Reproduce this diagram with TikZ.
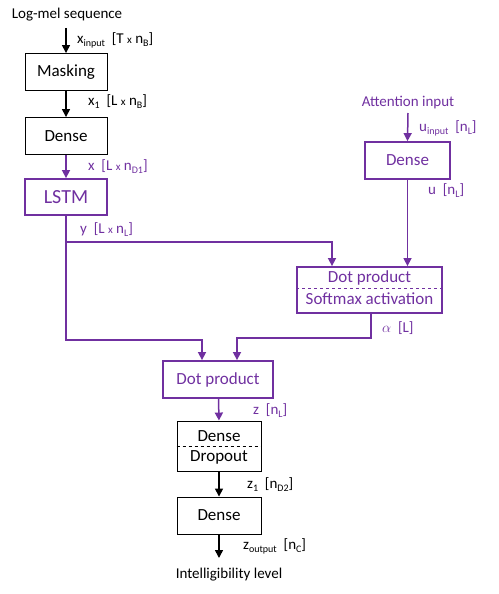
\documentclass[tikz,border=0pt]{standalone}
\usepackage{fontspec}
\setmainfont{Carlito}
\usetikzlibrary{arrows.meta,calc}
\definecolor{pur}{RGB}{112,48,160}
\newcommand{\sbs}[1]{\raisebox{-0.4ex}{\fontsize{10}{10}\selectfont #1}}
\newcommand{\tms}{{\fontsize{11}{11}\selectfont x}}
\begin{document}
\begin{tikzpicture}[x=1pt,y=-1pt,
  bbox/.style={draw=black,line width=0.9pt,minimum width=82pt,minimum height=37pt,inner sep=0pt,font=\fontsize{17}{17}\selectfont},
  pbox/.style={draw=pur,line width=1.8pt,text=pur,inner sep=0pt,font=\fontsize{17}{17}\selectfont},
  barr/.style={draw=black,line width=1.5pt,-{Triangle[length=8pt,width=8pt]}},
  parr/.style={draw=pur,line width=1.5pt,-{Triangle[length=8pt,width=8pt]}},
  lbl/.style={anchor=west,inner sep=0pt,font=\fontsize{15}{15}\selectfont},
  plbl/.style={lbl,text=pur},
  ttl/.style={inner sep=0pt,font=\fontsize{15}{15}\selectfont},
  btxt/.style={inner sep=0pt,font=\fontsize{17}{17}\selectfont}]
\useasboundingbox (0,0) rectangle (498,594);
% left column
\node[ttl] (logmel) at (67,15) {Log-mel sequence};
\node[bbox] (mask) at (66,72) {Masking};
\node[bbox] (dense1) at (66,136) {Dense};
\node[pbox,minimum width=82pt,minimum height=36pt,font=\fontsize{20}{20}\selectfont] (lstm) at (66,197) {LSTM};
% right column
\node[ttl,text=pur] (attin) at (408,103) {Attention input};
\node[pbox,minimum width=85pt,minimum height=37pt] (dense2) at (407.5,160.5) {Dense};
\node[pbox,minimum width=145pt,minimum height=46pt] (sm) at (369.5,290) {};
\draw[pur,line width=0.8pt,dashed] (sm.west |- 0,288) -- (sm.east |- 0,288);
\node[btxt,text=pur] (smt1) at (369.5,278) {Dot product};
\node[btxt,text=pur] (smt2) at (369.5,299) {Softmax activation};
% bottom
\node[pbox,minimum width=110pt,minimum height=37pt] (dp) at (218,379.5) {Dot product};
\node[bbox,minimum width=84pt,minimum height=50pt] (dd) at (219,446) {};
\draw[black,line width=0.8pt,dashed] (dd.west |- 0,446) -- (dd.east |- 0,446);
\node[btxt] (ddt1) at (219,436) {Dense};
\node[btxt] (ddt2) at (219,457) {Dropout};
\node[bbox,minimum width=84pt] (dense3) at (219,515.5) {Dense};
\node[ttl] (intel) at (229,575) {Intelligibility level};
\coordinate (zout) at (219,558);
% connectors
\draw[barr] (66,28) -- (mask.north);
\draw[barr] (mask.south) -- (dense1.north);
\draw[parr] (dense1.south) -- (lstm.north);
\draw[parr] (lstm.south) -- (lstm.south |- 0,340) -| ([xshift=-16]dp.north);
\draw[parr] (lstm.south |- 0,242) -| ([xshift=-37.5]sm.north);
\draw[parr] (408,113) -- (dense2.north);
\draw[parr] (dense2.south) -- (dense2.south |- sm.north);
\draw[parr] ([xshift=1.5]sm.south) -- ([xshift=1.5]sm.south |- 0,338) -| ([xshift=19]dp.north);
\draw[parr] ([xshift=0.5]dp.south) -- (dd.north);
\draw[barr] (dd.south) -- (dense3.north);
\draw[barr] (dense3.south) -- (zout);
% labels
\node[lbl] (l1) at (77,40) {x\sbs{input}\ \ [T \tms\ n\sbs{B}]};
\node[lbl] (l2) at (88,102) {x\sbs{1}\ \ [L \tms\ n\sbs{B}]};
\node[plbl] (l3) at (88,167) {x\ \ [L \tms\ n\sbs{D1}]};
\node[plbl] (l4) at (80,230) {y\ \ [L \tms\ n\sbs{L}]};
\node[plbl] (l5) at (419,128) {u\sbs{input}\ \ [n\sbs{L}]};
\node[plbl] (l6) at (428,191) {u\ \ [n\sbs{L}]};
\node[plbl] (l7) at (382,328) {$\alpha$\ \ [L]};
\node[plbl] (l8) at (253,411) {z\ \ [n\sbs{L}]};
\node[lbl] (l9) at (247,485) {z\sbs{1}\ \ [n\sbs{D2}]};
\node[lbl] (l10) at (243,546) {z\sbs{output}\ \ [n\sbs{C}]};
\end{tikzpicture}
\end{document}
